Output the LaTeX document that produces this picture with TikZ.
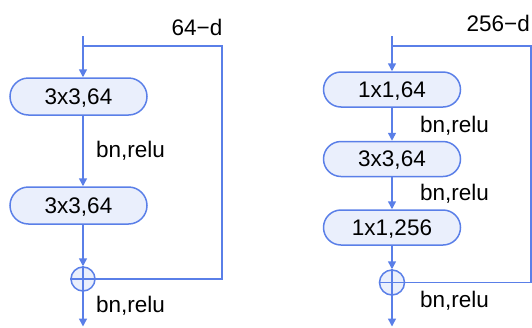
\documentclass[tikz,border=0pt]{standalone}
\usepackage{fontspec}
\setmainfont{Liberation Sans}
\usetikzlibrary{arrows.meta,shapes.misc}
\definecolor{ln}{RGB}{90,127,232}
\definecolor{fl}{RGB}{234,239,252}
\begin{document}
\begin{tikzpicture}[x=1pt,y=-1pt,
  conv/.style={draw=ln, fill=fl, line width=1.5pt, rounded rectangle,
    minimum width=137pt, minimum height=37pt, text height=15.5pt, text depth=0pt,
    inner sep=0pt, font=\fontsize{22.5}{26}\selectfont},
  sumnode/.style={draw=ln, fill=fl, line width=1.5pt, circle, minimum size=24pt, inner sep=0pt},
  conn/.style={draw=ln, line width=1.5pt},
  arr/.style={conn, -{Triangle[width=8pt,length=8pt]}},
  lbl/.style={font=\fontsize{22.5}{26}\selectfont, inner sep=0pt}
]
\useasboundingbox (0,0) rectangle (532,327);

% ---------- left block ----------
\coordinate (Ltop) at (83,36);
\coordinate (Lsplit) at (83,46);
\coordinate (Lcorner) at (222,46);
\coordinate (Lend) at (83,326.5);
\node[conv] (L1) at (78.5,96.5) {3x3,64};
\node[conv] (L2) at (78.5,205.5) {3x3,64};
\node[sumnode] (Lsum) at (83,279) {};
\draw[conn] (Lsum.north) -- (Lsum.south) (Lsum.west) -- (Lsum.east);

\draw[arr] (Ltop) -- (Ltop |- L1.north);
\draw[arr] (Ltop |- L1.south) -- (Ltop |- L2.north);
\draw[arr] (Ltop |- L2.south) -- (Lsum.north);
\draw[arr] (Lsum.south) -- (Lend);
\draw[conn] (Lsplit) -- (Lcorner) -- (Lcorner |- Lsum) -- (Lsum.east);

\node[lbl, anchor=base east] (Ld) at (222.5,35) {64−d};
\node[lbl, anchor=base west] (Lbn1) at (96,157) {bn,relu};
\node[lbl, anchor=base west] (Lbn2) at (96,312) {bn,relu};

% ---------- right block ----------
\coordinate (Rtop) at (392,36);
\coordinate (Rsplit) at (392,46);
\coordinate (Rcorner) at (531,46);
\coordinate (Rend) at (392,326.5);
\node[conv, minimum height=35pt] (R1) at (392,89.5) {1x1,64};
\node[conv, minimum height=35pt] (R2) at (392,159) {3x3,64};
\node[conv, minimum height=35pt] (R3) at (392,227.5) {1x1,256};
\node[sumnode, minimum size=25pt] (Rsum) at (392,282.5) {};
\draw[conn] (Rsum.north) -- (Rsum.south) (Rsum.west) -- (Rsum.east);

\draw[arr] (Rtop) -- (R1.north);
\draw[arr] (R1.south) -- (R2.north);
\draw[arr] (R2.south) -- (R3.north);
\draw[arr] (R3.south) -- (Rsum.north);
\draw[arr] (Rsum.south) -- (Rend);
\draw[conn] (Rsplit) -- (Rcorner) -- (Rcorner |- Rsum) -- (Rsum.east);

\node[lbl, anchor=base east] (Rd) at (530,31.5) {256−d};
\node[lbl, anchor=base west] (Rbn1) at (420,132) {bn,relu};
\node[lbl, anchor=base west] (Rbn2) at (420,200) {bn,relu};
\node[lbl, anchor=base west] (Rbn3) at (420,307) {bn,relu};
\end{tikzpicture}
\end{document}
